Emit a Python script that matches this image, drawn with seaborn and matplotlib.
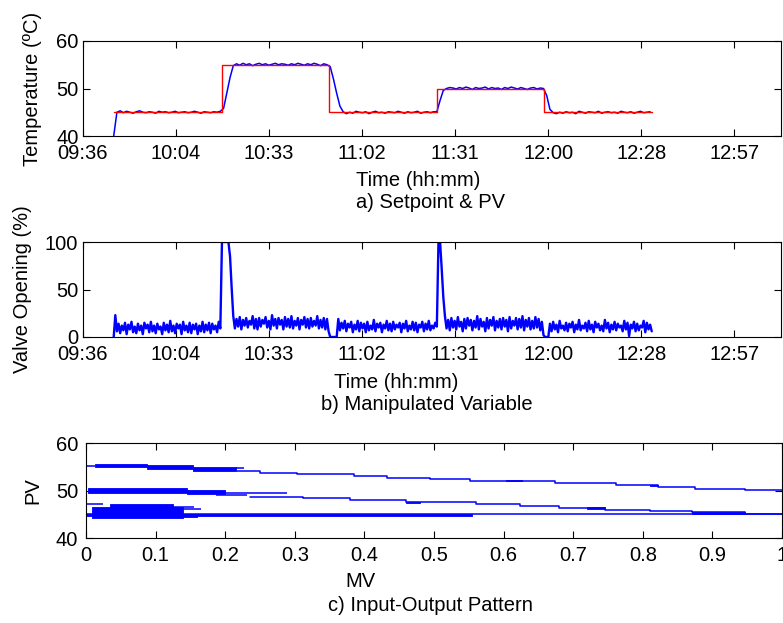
import numpy as np
import matplotlib
matplotlib.use("Agg")
import matplotlib.pyplot as plt
import seaborn as sns

# ---- time axis (x in minutes after midnight) ----
tick_days = [0.40, 0.42, 0.44, 0.46, 0.48, 0.50, 0.52, 0.54]
tick_labels = ["09:36", "10:04", "10:33", "11:02", "11:31", "12:00", "12:28", "12:57"]
time_limits_days = [0.40, 0.55]

# setpoint steps
sp_time = [585.6, 619.0, 652.1, 685.6, 718.7, 752.1]
sp_level = [45, 55, 45, 50, 45, 45]

# process variable, one sample per minute from 09:45:30
pv_start, pv_step = 585.5, 1.0
pv_values = """
40.0
45.0 45.3 44.9 45.2 45.0 44.8 45.1 45.3 45.0 44.9 45.1 45.0 44.8 45.2 45.0 45.1 44.9 45.0 45.2 44.9
45.0 45.1 44.9 45.0 45.2 45.0 44.8 45.1 45.0 44.9 45.1 45.0 45.2
45.8 49.0 52.3 54.8
55.2 54.9 55.3 55.0 55.2 54.8 55.1 55.3 55.0 55.2 54.9 55.1 55.3 55.0 55.2 55.1 54.9 55.2 55.0 55.3
55.1 54.9 55.2 55.0 55.3 55.1 54.8 55.2 55.0
54.6 52.0 49.0 46.3
45.1 44.7 45.0 44.8 45.2 45.0 44.9 45.1 44.7 45.0 45.2 44.9 45.0 44.8 45.1 45.0 44.9 45.2 45.0 44.8
45.1 44.9 45.0 45.2 44.8 45.0 45.1 44.9 45.1
45.1 47.5 49.6
50.0 50.2 50.1 49.9 50.2 50.0 50.3 50.1 49.8 50.2 50.0 50.1 50.3 49.9 50.2 50.0 50.1 49.8 50.2 50.0
50.3 50.1 49.9 50.2 50.0 49.8 50.1 50.2 49.9 50.1 50.0
48.5 45.6
44.9 44.7 45.0 44.8 45.1 44.9 45.0 44.7 45.2 45.0 44.8 45.1 45.0 44.9 45.2 44.8 45.0 45.1 44.9 45.0
44.8 45.2 45.0 44.9 45.1 44.8 45.0 45.2 44.9 45.0 45.1
"""

# valve opening (%), one sample every half minute from 09:45:30
mv_start, mv_step = 585.5, 0.5
mv_values = """
0 23 6 14 4 12 7 15 3 13 8 16 5 11 4 14 7 12 3 15 9 13 5 16 6 12 4 14 8 11
3 15 7 13 5 17 6 12 4 14 9 13 3 16 7 12 5 15 4 13 8 14 3 12 6 16 5 13 7 15
4 14 8 12 5 16 9
100 100 100 100 100 85 52 22
9 19 11 21 8 18 12 20 10 17 13 22 9 19 8 20 11 18 14 21 10 17 8 23 12 19 9 20 13 18
8 21 11 19 10 22 9 17 12 20 8 18 13 21 10 19 9 20 11 17 12 22 9 18 10 20 8 19 6
0 0 0 0 0
19 7 15 9 17 6 14 10 16 5 13 8 17 6 15 9 14 5 16 7 12 8 18 6 14 10 15 5 13 9
17 7 14 6 16 8 13 10 15 5 14 9 17 6 12 8 16 7 15 5 13 10 16 6 14 8 17 7 12 9
15 11
100 100 72 42 22
9 18 7 20 10 17 8 21 11 16 6 19 9 20 12 18 7 17 10 22 8 19 11 16 6 20 9 18 12 21
7 17 10 19 8 20 11 18 6 21 9 17 12 20 8 19 10 22 7 18 11 20 8 17 9 21 10 19 7 16
2
0 0 0
14 6 16 8 13 5 17 9 12 7 15 6 14 10 16 5 13 8 18 7 12 9 15 6 17 8 13 5 16 10
14 7 12 6 18 9 15 5 13 8 16 7 14 10 12 6 17 8 15 1 13 9 16 6 14 7 12 10 17 5
15 8 13 6
"""

# ---- input-output pattern (MV fraction vs PV) ----
io_ticks = [0, 0.1, 0.2, 0.3, 0.4, 0.5, 0.6, 0.7, 0.8, 0.9, 1.0]
io_tick_labels = ["0", "0.1", "0.2", "0.3", "0.4", "0.5", "0.6", "0.7", "0.8", "0.9", "1"]

upper_mv = [0.2165, 0.25, 0.303, 0.385, 0.432, 0.494, 0.552, 0.674, 0.762, 0.822, 0.875, 0.947, 1.0]
upper_pv = [54.18, 53.75, 53.40, 53.12, 52.70, 52.35, 52.07, 51.51, 51.09, 50.74, 50.32, 50.08, 50.08]
middle_mv = [0.2356, 0.312, 0.38, 0.46, 0.561, 0.623, 0.68, 0.745, 0.81, 0.87, 0.947, 1.0]
middle_pv = [48.70, 48.35, 48.00, 47.58, 47.09, 46.74, 46.39, 45.89, 45.75, 45.45, 45.0, 45.0]

block_mv0 = [0.013, 0.087, 0.154, 0.604, 0.81, 0.003, 0.145, 0.46, 0.72, 0.87, 0.008, 0.035, 0.14, 0.0]
block_mv1 = [0.087, 0.154, 0.216, 0.626, 0.822, 0.145, 0.20, 0.48, 0.745, 0.947, 0.14, 0.125, 0.16, 0.554]
block_lo = [54.95, 54.6, 54.2, 51.95, 50.95, 49.5, 49.35, 47.4, 46.2, 45.05, 44.2, 46.4, 44.4, 44.7]
block_hi = [55.6, 55.4, 54.95, 52.2, 51.2, 50.5, 50.1, 47.6, 46.45, 45.45, 46.6, 47.2, 45.1, 45.0]

seg_mv0 = [0.0, 0.216, 0.17, 0.187, 0.0, 0.12, 0.115, 0.0]
seg_mv1 = [0.013, 0.227, 0.289, 0.232, 0.025, 0.155, 0.165, 1.0]
seg_pv = [55.2, 54.75, 49.4, 49.05, 47.2, 46.5, 46.05, 44.97]

# ---- style ----
sns.set_style("ticks")
plt.rcParams["font.family"] = ["Liberation Sans", "DejaVu Sans"]
plt.rcParams["text.color"] = "black"
plt.rcParams["axes.edgecolor"] = "black"
plt.rcParams["axes.linewidth"] = 0.8
FS = 14.5
W, H = 783, 623

fig = plt.figure(figsize=(W / 100, H / 100), dpi=100)
ax1 = fig.add_axes([83 / W, 1 - 136 / H, 698 / W, 95 / H])
ax2 = fig.add_axes([83 / W, 1 - 337 / H, 698 / W, 95 / H])
ax3 = fig.add_axes([86 / W, 1 - 538 / H, 696 / W, 95 / H])

pv = np.array(pv_values.split(), dtype=float)
pv_time = pv_start + pv_step * np.arange(len(pv))
mv = np.array(mv_values.split(), dtype=float)
mv_time = mv_start + mv_step * np.arange(len(mv))

ticks_min = [d * 1440 for d in tick_days]
xlim_min = [d * 1440 for d in time_limits_days]

# a) setpoint & PV
sns.lineplot(x=pv_time, y=pv, color="blue", lw=1.1, estimator=None, sort=False, ax=ax1)
sns.lineplot(x=sp_time, y=sp_level, color="red", lw=1.0, drawstyle="steps-post",
             estimator=None, sort=False, ax=ax1)
ax1.set_ylim(40, 60)
ax1.set_yticks([40, 50, 60])

# b) manipulated variable
sns.lineplot(x=mv_time, y=mv, color="blue", lw=1.7, estimator=None, sort=False, ax=ax2)
ax2.set_ylim(0, 100)
ax2.set_yticks([0, 50, 100])

for ax in (ax1, ax2):
    ax.set_xlim(*xlim_min)
    ax.set_xticks(ticks_min)
    ax.set_xticklabels(tick_labels)

# c) input-output pattern
for m0, m1, lo, hi in zip(block_mv0, block_mv1, block_lo, block_hi):
    ax3.fill_between([m0, m1], lo, hi, color="blue", lw=0.6)
ax3.hlines(seg_pv, seg_mv0, seg_mv1, color="blue", lw=1.1)
sns.lineplot(x=upper_mv, y=upper_pv, color="blue", lw=1.1, drawstyle="steps-post",
             estimator=None, sort=False, ax=ax3)
sns.lineplot(x=middle_mv, y=middle_pv, color="blue", lw=1.1, drawstyle="steps-post",
             estimator=None, sort=False, ax=ax3)
ax3.set_xlim(0, 1)
ax3.set_ylim(40, 60)
ax3.set_xticks(io_ticks)
ax3.set_xticklabels(io_tick_labels)
ax3.set_yticks([40, 50, 60])

for ax, ypad in ((ax1, 3), (ax2, 3.5), (ax3, 5.5)):
    ax.tick_params(direction="in", top=True, right=True, length=5, width=0.8,
                   labelsize=FS, colors="black")
    ax.tick_params(axis="x", pad=6)
    ax.tick_params(axis="y", pad=ypad)
    for s in ax.spines.values():
        s.set_visible(True)
        s.set_color("black")
    ax.set_xlabel("")
    ax.set_ylabel("")

def ftext(x, y, s, **kw):
    fig.text(x / W, 1 - y / H, s, fontsize=FS, ha="center", va="baseline", **kw)

ftext(418, 186, "Time (hh:mm)")
ftext(430, 208, "a) Setpoint & PV")
ftext(396, 388, "Time (hh:mm)")
ftext(427, 410, "b) Manipulated Variable")
ftext(360, 587, "MV")
ftext(430, 611, "c) Input-Output Pattern")

ftext(38, 88.5, "Temperature (ºC)", rotation=90, rotation_mode="anchor")
ftext(28, 289.5, "Valve Opening (%)", rotation=90, rotation_mode="anchor")
ftext(38, 490.5, "PV", rotation=90, rotation_mode="anchor")

fig.savefig("out.png", dpi=100)
